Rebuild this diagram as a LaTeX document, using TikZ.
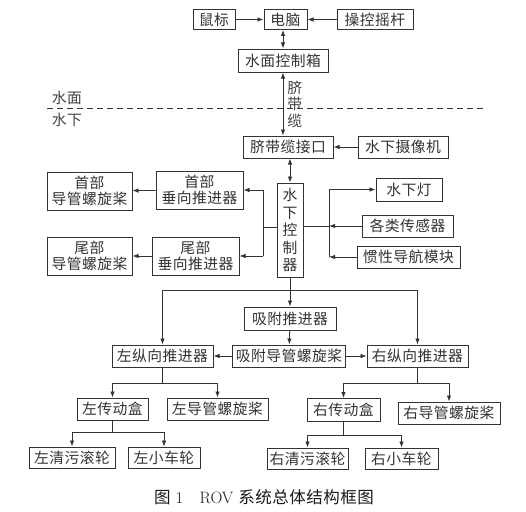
\documentclass[tikz,border=0pt]{standalone}
\usepackage{fontspec}
\newfontfamily\cjk[LetterSpace=3]{Noto Sans CJK SC}
\usetikzlibrary{arrows.meta}

\begin{document}
\begin{tikzpicture}[x=1pt, y=-1pt,
  font=\cjk\fontsize{14.8}{16.5}\selectfont,
  blk/.style={draw=black!80, line width=1pt, inner sep=1pt, align=center, minimum height=22, text=black!80},
  tall/.style={blk, minimum height=38},
  arr/.style={-{Latex[length=6pt,width=4.5pt]}, line width=0.8pt, draw=black!80},
  both/.style={{Latex[length=6pt,width=4.5pt]}-{Latex[length=6pt,width=4.5pt]}, line width=0.8pt, draw=black!80},
  wire/.style={line width=0.8pt, draw=black!80},
  lbl/.style={text=black!75, inner sep=0pt, align=center}
]
\useasboundingbox (0,0) rectangle (526,511);

\node[blk, minimum width=42, minimum height=20] (mouse) at (214,19.5) {鼠标};
\node[blk, minimum width=43, minimum height=20] (pc) at (285.5,19.5) {电脑};
\node[blk, minimum width=76, minimum height=20] (stick) at (375,19.5) {操控摇杆};
\node[blk, minimum width=90, minimum height=23] (surf) at (283,60.5) {水面控制箱};

\draw[arr] (mouse) -- (pc);
\draw[arr] (stick) -- (pc);
\draw[both] (surf.north) -- (surf.north |- pc.south);

\coordinate (sea0) at (47,108);
\coordinate (sea1) at (487,108);
\draw[wire, dash pattern=on 6pt off 4pt] (sea0) -- (sea1);
\node[lbl] (above) at (67,98) {水面};
\node[lbl] (below) at (67,120) {水下};

\node[blk, minimum width=90] (tether) at (288,147) {脐带缆接口};
\node[blk, minimum width=90] (cam) at (403,147) {水下摄像机};
\draw[both] (surf.south) -- node[lbl, right=4pt] {脐\\带\\缆} (surf.south |- tether.north);
\draw[arr] (cam) -- (tether);

\node[blk, minimum width=26, minimum height=94, font=\cjk\fontsize{14.8}{17.5}\selectfont] (ctrl) at (290,230) {水\\下\\控\\制\\器};
\draw[both] (ctrl.north) -- (ctrl.north |- tether.south);

\node[blk, minimum width=66, minimum height=23] (lamp) at (409,189.5) {水下灯};
\node[blk, minimum width=91] (sens) at (407.5,226) {各类传感器};
\node[blk, minimum width=103] (ins) at (408.5,257) {惯性导航模块};
\coordinate (rbus) at (329,226);
\draw[wire] (ctrl.east |- rbus) -- (rbus);
\draw[wire] (rbus |- lamp) -- (rbus |- ins);
\draw[arr] (rbus |- lamp) -- (lamp);
\draw[arr] (sens) -- (rbus);
\draw[arr] (ins) -- (rbus |- ins);

\node[tall, minimum width=87] (hv) at (199.5,190) {首部\\垂向推进器};
\node[tall, minimum width=85] (hp) at (89.5,191) {首部\\导管螺旋桨};
\node[tall, minimum width=87] (tv) at (195.5,256) {尾部\\垂向推进器};
\node[tall, minimum width=85] (tp) at (89.5,256) {尾部\\导管螺旋桨};
\coordinate (lbus) at (263,227);
\draw[wire] (ctrl.west |- lbus) -- (lbus);
\draw[wire] (lbus |- hv) -- (lbus |- tv);
\draw[arr] (lbus |- hv) -- (hv);
\draw[arr] (lbus |- tv) -- (tv);
\draw[arr] (hv) -- (hp);
\draw[arr] (tv) -- (tp);

\node[blk, minimum width=92, minimum height=23] (suck) at (290,318.5) {吸附推进器};
\node[blk, minimum width=113] (sprop) at (289,356) {吸附导管螺旋桨};
\node[blk, minimum width=101] (lt) at (162.5,356) {左纵向推进器};
\node[blk, minimum width=101] (rt) at (417.5,356) {右纵向推进器};
\path (ctrl.south) ++(0,13) coordinate (split);
\draw[wire] (ctrl.south) -- (split);
\draw[arr] (split) -- (suck);
\draw[arr] (split) -| (lt);
\draw[arr] (split) -| (rt);
\draw[arr] (suck) -- (sprop);
\draw[arr] (sprop) -- (lt);
\draw[arr] (sprop) -- (rt);

\node[blk, minimum width=71] (lbox) at (112.5,409) {左传动盒};
\node[blk, minimum width=101] (lprop) at (217.5,409) {左导管螺旋桨};
\node[blk, minimum width=73, minimum height=23] (rbox) at (343.5,410) {右传动盒};
\node[blk, minimum width=102] (rprop) at (449,413) {右导管螺旋桨};
\path (lt.south) ++(0,16) coordinate (lsplit);
\path (rt.south) ++(0,16) coordinate (rsplit);
\draw[wire] (lt.south) -- (lsplit);
\draw[arr] (lsplit) -| (lbox);
\draw[arr] (lsplit) -| (lprop);
\draw[wire] (rt.south) -- (rsplit);
\draw[arr] (rsplit) -| (rbox);
\draw[arr] (rsplit) -| (rprop);

\node[blk, minimum width=86, minimum height=21] (lclean) at (72,457.5) {左清污滚轮};
\node[blk, minimum width=72, minimum height=21] (lwheel) at (164,457.5) {左小车轮};
\node[blk, minimum width=81, minimum height=21] (rclean) at (307.5,458.5) {右清污滚轮};
\node[blk, minimum width=73, minimum height=21] (rwheel) at (401.5,458.5) {右小车轮};
\path (lbox.south) ++(0,12) coordinate (lbsplit);
\path (rbox.south) ++(0,13) coordinate (rbsplit);
\draw[wire] (lbox.south) -- (lbsplit);
\draw[arr] (lbsplit) -| (lclean);
\draw[arr] (lbsplit) -| (lwheel);
\draw[wire] (rbox.south) -- (rbsplit);
\draw[arr] (rbsplit) -| (rclean);
\draw[arr] (rbsplit) -| (rwheel);

\node[lbl, text=black!90, font=\fontsize{16.5}{19}\selectfont] (cap) at (264,497) {{\cjk 图} 1\quad ROV {\cjk 系统总体结构框图}};

\end{tikzpicture}
\end{document}
